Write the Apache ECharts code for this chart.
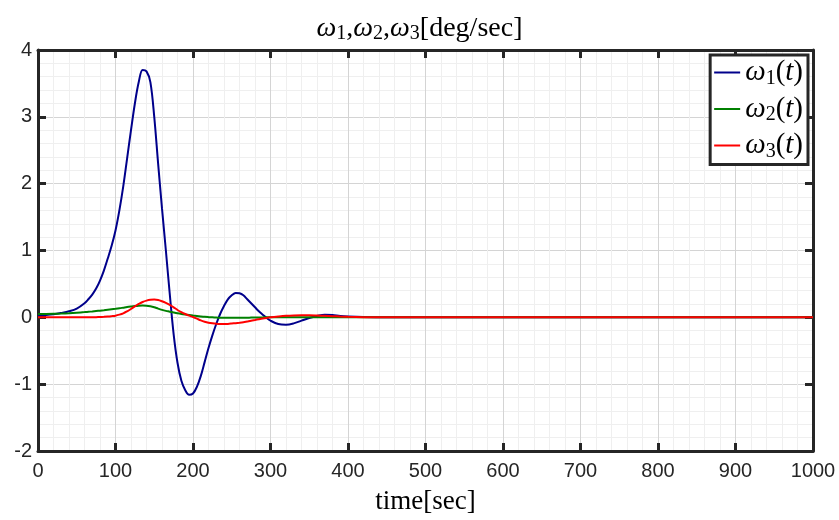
<!DOCTYPE html>
<html>
<head>
<meta charset="utf-8">
<script src="https://cdn.jsdelivr.net/npm/echarts@6/dist/echarts.min.js"></script>
<style>
  html, body { margin: 0; padding: 0; background: #fff; }
  #chart { width: 839px; height: 520px; }
</style>
</head>
<body>
<div id="chart"></div>
<script>
// time samples [sec]
const time = [
  0, 10, 20, 30, 40, 50, 60, 65, 70, 75, 80, 85, 90, 95,
  100, 105, 110, 115, 120, 125, 130, 135, 140, 145, 150, 155, 160, 165, 170, 175, 180, 185, 190, 195,
  200, 205, 210, 215, 220, 225, 230, 235, 240, 245, 250, 255, 260, 265, 270, 275, 280, 285, 290, 295, 300,
  310, 320, 330, 340, 350, 360, 370, 380, 390, 400,
  420, 450, 500, 600, 700, 800, 900, 1000,
];
// angular rates [deg/sec]
const omega1 = [
  0.03, 0.035, 0.045, 0.065, 0.09, 0.13, 0.21, 0.27, 0.34, 0.43, 0.55, 0.7, 0.88, 1.07,
  1.3, 1.6, 1.96, 2.38, 2.8, 3.2, 3.52, 3.7, 3.68, 3.52, 3.0, 2.3, 1.63, 1.0, 0.35, -0.25, -0.68, -0.95, -1.09, -1.16,
  -1.14, -1.04, -0.88, -0.67, -0.46, -0.27, -0.1, 0.05, 0.17, 0.27, 0.33, 0.365, 0.36, 0.33, 0.27, 0.21, 0.15, 0.09, 0.04, -0.01, -0.05,
  -0.1, -0.11, -0.09, -0.05, -0.01, 0.02, 0.04, 0.035, 0.02, 0.012,
  0.004, 0, 0, 0, 0, 0, 0, 0,
];
const omega2 = [
  0.05, 0.05, 0.052, 0.056, 0.062, 0.07, 0.078, 0.083, 0.088, 0.094, 0.1, 0.106, 0.113, 0.12,
  0.127, 0.135, 0.145, 0.155, 0.163, 0.17, 0.175, 0.177, 0.175, 0.165, 0.15, 0.13, 0.112, 0.097, 0.085, 0.072, 0.06, 0.05, 0.042, 0.035,
  0.027, 0.02, 0.013, 0.007, 0.003, 0, -0.003, -0.006, -0.008, -0.008, -0.008, -0.008, -0.007, -0.006, -0.005, -0.004, -0.003, -0.002, -0.001, 0, 0,
  0, 0, 0, 0, 0, 0, 0, 0, 0, 0,
  0, 0, 0, 0, 0, 0, 0, 0,
];
const omega3 = [
  0, 0, 0, 0, 0, 0, 0, 0.001, 0.002, 0.003, 0.005, 0.008, 0.012, 0.018,
  0.025, 0.04, 0.06, 0.09, 0.125, 0.165, 0.2, 0.23, 0.25, 0.262, 0.265, 0.26, 0.24, 0.215, 0.185, 0.15, 0.11, 0.078, 0.05, 0.025,
  0.005, -0.02, -0.045, -0.065, -0.08, -0.09, -0.097, -0.1, -0.1, -0.098, -0.093, -0.087, -0.08, -0.072, -0.062, -0.052, -0.04, -0.028, -0.017, -0.008, 0.0,
  0.012, 0.022, 0.028, 0.03, 0.03, 0.027, 0.022, 0.017, 0.012, 0.008,
  0.003, 0, 0, 0, 0, 0, 0, 0,
];

const names = ["ω1(t)", "ω2(t)", "ω3(t)"];
const colors = ["#00008b", "#008000", "#ff0000"];

const dark = "#262626";
const serif = "'Liberation Serif', 'DejaVu Serif', serif";

const chart = echarts.init(document.getElementById("chart"));

function pairs(vals) {
  return time.map((t, i) => [t, vals[i]]);
}

const boxLine = { show: true, onZero: false, lineStyle: { color: dark, width: 3 } };
const boxTick = { show: true, inside: true, length: 8, lineStyle: { color: dark, width: 3 } };
const major = { show: true, lineStyle: { color: "#d4d4d4", width: 1 } };
const minor = { show: true, lineStyle: { color: "#efefef", width: 1 } };
const label = {
  color: dark,
  fontSize: 20,
  fontFamily: "'Liberation Sans', Arial, sans-serif",
  formatter: (v) => String(v),
};

function mathRich(size, lh) {
  const base = { fontFamily: serif, fontWeight: "normal", color: "#000" };
  return {
    w: { ...base, fontStyle: "italic", fontSize: size, lineHeight: lh },
    n: { ...base, fontSize: size, lineHeight: lh },
    s: { ...base, fontSize: Math.round(size * 0.7), lineHeight: Math.round(size * 0.7), verticalAlign: "bottom" },
  };
}

chart.setOption({
  animation: false,
  title: {
    text: "{w|ω}{s|1}{n|,}{w|ω}{s|2}{n|,}{w|ω}{s|3}{n|[deg/sec]}",
    left: "center",
    top: 9,
    textStyle: { fontFamily: serif, fontWeight: "normal", fontSize: 27, color: "#000", rich: mathRich(28, 30) },
  },
  grid: { left: 38, right: 26, top: 50, bottom: 69, outerBoundsMode: "none" },
  legend: {
    orient: "vertical",
    right: 31,
    top: 55,
    padding: [3, 5, 3, 4],
    itemGap: 6,
    itemWidth: 26,
    itemHeight: 2,
    itemTextGap: 3,
    icon: "rect",
    backgroundColor: "#fff",
    borderColor: dark,
    borderWidth: 3,
    data: names,
    formatter: (n) => "{w|ω}{s|" + n.charAt(1) + "}{n|(}{w|t}{n|)}",
    textStyle: { fontFamily: serif, fontSize: 28, color: "#000", rich: mathRich(29, 32) },
  },
  xAxis: [
    {
      type: "value",
      min: 0,
      max: 1000,
      interval: 100,
      position: "bottom",
      axisLine: boxLine,
      axisTick: boxTick,
      axisLabel: { ...label, margin: 10 },
      splitLine: major,
      minorTick: { show: false, splitNumber: 5 },
      minorSplitLine: minor,
      name: "time[sec]",
      nameLocation: "middle",
      nameGap: 37,
      nameTextStyle: { fontFamily: serif, fontSize: 27, color: "#000" },
    },
    {
      type: "value",
      min: 0,
      max: 1000,
      interval: 100,
      position: "top",
      axisLine: boxLine,
      axisTick: boxTick,
      axisLabel: { show: false },
      splitLine: { show: false },
    },
  ],
  yAxis: [
    {
      type: "value",
      min: -2,
      max: 4,
      interval: 1,
      position: "left",
      axisLine: boxLine,
      axisTick: boxTick,
      axisLabel: { ...label, margin: 6 },
      splitLine: major,
      minorTick: { show: false, splitNumber: 5 },
      minorSplitLine: minor,
    },
    {
      type: "value",
      min: -2,
      max: 4,
      interval: 1,
      position: "right",
      axisLine: boxLine,
      axisTick: boxTick,
      axisLabel: { show: false },
      splitLine: { show: false },
    },
  ],
  series: [omega1, omega2, omega3].map((vals, k) => ({
    name: names[k],
    type: "line",
    data: pairs(vals),
    smooth: 0.35,
    showSymbol: false,
    lineStyle: { color: colors[k], width: 2 },
    itemStyle: { color: colors[k] },
    z: 3 + k,
  })),
});
</script>
</body>
</html>
